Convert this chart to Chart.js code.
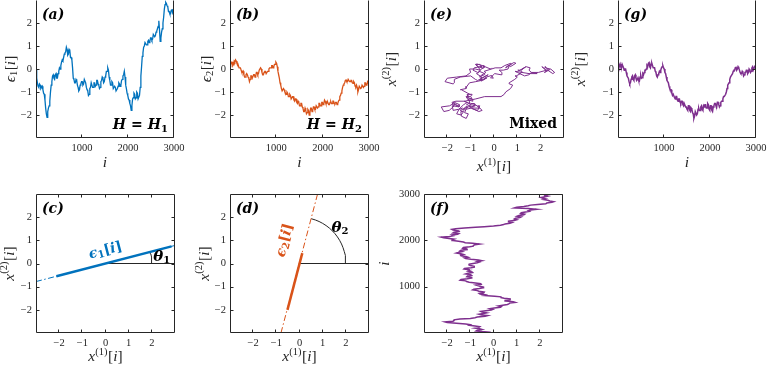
<!DOCTYPE html>
<html><head><meta charset="utf-8">
<script src="https://cdn.jsdelivr.net/npm/chart.js@4.4.0/dist/chart.umd.min.js"></script>
<style>
html,body{margin:0;padding:0;background:#fff;width:768px;height:365px;overflow:hidden;position:relative}
canvas{position:absolute}
</style></head><body>
<script>
// ---------------- data ----------------
const sampleIndex = [0,15,30,45,60,75,90,105,120,135,150,165,180,195,210,225,240,255,270,285,
300,315,330,345,360,375,390,405,420,435,450,465,480,495,510,525,540,555,570,585,
600,615,630,645,660,675,690,705,720,735,750,765,780,795,810,825,840,855,870,885,
900,915,930,945,960,975,990,1005,1020,1035,1050,1065,1080,1095,1110,1125,1140,1155,1170,1185,
1200,1215,1230,1245,1260,1275,1290,1305,1320,1335,1350,1365,1380,1395,1410,1425,1440,1455,1470,1485,
1500,1515,1530,1545,1560,1575,1590,1605,1620,1635,1650,1665,1680,1695,1710,1725,1740,1755,1770,1785,
1800,1815,1830,1845,1860,1875,1890,1905,1920,1935,1950,1965,1980,1995,2010,2025,2040,2055,2070,2085,
2100,2115,2130,2145,2160,2175,2190,2205,2220,2235,2250,2265,2280,2295,2310,2325,2340,2355,2370,2385,
2400,2415,2430,2445,2460,2475,2490,2505,2520,2535,2550,2565,2580,2595,2610,2625,2640,2655,2670,2685,
2700,2715,2730,2745,2760,2775,2790,2805,2820,2835,2850,2865,2880,2895,2910,2925,2940,2955,2970,2985,
3000];
const eps1 = [0.0,-0.4,-0.6,-0.75,-0.8,-0.65,-0.7,-0.85,-0.8,-0.75,-0.9,-1.05,-1.1,-1.35,-1.7,-1.95,-2.1,-1.85,-1.7,-1.6,
-1.4,-1.0,-0.7,-0.55,-0.3,-0.25,-0.4,-0.45,-0.25,-0.2,-0.4,-0.4,-0.2,-0.1,0.05,0.0,0.15,0.3,0.4,0.35,
0.5,0.65,0.7,0.75,0.95,0.85,0.6,0.65,0.85,0.8,0.5,0.5,0.4,0.05,-0.4,-0.45,-0.6,-0.6,-0.45,-0.5,
-0.7,-0.8,-0.95,-0.9,-0.7,-0.65,-0.55,-0.55,-0.7,-0.65,-0.45,-0.45,-0.6,-0.8,-0.9,-0.95,-1.15,-1.1,-0.85,-0.8,
-0.6,-0.6,-0.8,-0.8,-0.6,-0.6,-0.75,-0.7,-0.5,-0.5,-0.65,-0.7,-0.85,-0.8,-0.55,-0.5,-0.35,-0.4,-0.6,-0.55,
-0.35,-0.3,-0.1,-0.1,0.05,-0.05,-0.35,-0.5,-0.7,-0.7,-0.55,-0.6,-0.85,-0.85,-0.75,-0.8,-0.95,-0.95,-0.85,-0.75,
-0.6,-0.65,-0.75,-0.7,-0.5,-0.45,-0.3,-0.25,-0.1,-0.35,-0.7,-0.85,-1.05,-1.15,-1.3,-1.35,-1.5,-1.6,-1.8,-1.6,
-1.3,-1.25,-1.05,-1.1,-1.3,-1.25,-1.0,-1.05,-1.3,-1.3,-1.15,-0.8,-0.3,0.1,0.55,0.7,0.95,1.0,1.15,1.15,
1.05,1.05,1.2,1.25,1.15,1.2,1.35,1.35,1.25,1.3,1.5,1.5,1.4,1.45,1.6,1.65,1.75,1.85,2.1,1.7,
1.2,1.35,1.6,1.75,2.0,2.25,2.6,2.8,2.9,2.85,2.75,2.7,2.5,2.5,2.4,2.4,2.55,2.6,2.45,2.55,
2.75];
const eps2 = [0.1,0.15,0.3,0.3,0.15,0.2,0.35,0.3,0.4,0.35,0.25,0.25,0.15,0.05,0.05,0.05,-0.05,-0.15,-0.15,-0.1,
-0.25,-0.35,-0.35,-0.25,-0.2,-0.25,-0.35,-0.4,-0.55,-0.45,-0.3,-0.3,-0.4,-0.4,-0.25,-0.25,-0.35,-0.3,-0.15,-0.15,
-0.25,-0.2,-0.05,-0.05,0.05,0.0,-0.15,-0.25,-0.25,-0.15,-0.1,-0.1,-0.2,-0.2,-0.1,-0.1,0.0,0.05,0.05,0.05,
0.15,0.15,0.05,0.1,0.2,0.2,0.3,0.25,0.1,-0.1,-0.25,-0.4,-0.6,-0.7,-0.85,-0.95,-0.95,-0.85,-0.9,-1.0,
-1.05,-1.1,-1.0,-1.05,-1.2,-1.2,-1.1,-1.15,-1.3,-1.3,-1.2,-1.2,-1.35,-1.4,-1.3,-1.3,-1.45,-1.5,-1.4,-1.45,
-1.6,-1.6,-1.5,-1.5,-1.65,-1.7,-1.85,-1.85,-1.7,-1.8,-1.95,-1.9,-1.75,-1.8,-2.0,-1.9,-1.7,-1.7,-1.85,-1.8,
-1.65,-1.65,-1.75,-1.75,-1.6,-1.6,-1.7,-1.65,-1.5,-1.5,-1.6,-1.6,-1.45,-1.45,-1.55,-1.5,-1.35,-1.4,-1.5,-1.5,
-1.4,-1.4,-1.55,-1.55,-1.45,-1.42,-1.5,-1.5,-1.4,-1.4,-1.5,-1.52,-1.45,-1.45,-1.55,-1.5,-1.4,-1.35,-1.2,-1.15,
-1.05,-0.95,-0.8,-0.7,-0.65,-0.6,-0.5,-0.48,-0.55,-0.55,-0.45,-0.45,-0.55,-0.55,-0.5,-0.5,-0.6,-0.62,-0.55,-0.6,
-0.75,-0.78,-0.7,-0.8,-1.0,-0.9,-0.75,-0.75,-0.85,-0.82,-0.7,-0.7,-0.8,-0.75,-0.6,-0.6,-0.7,-0.68,-0.55,-0.6,
-0.75];
const x1 = [-0.1,-0.15,-0.5,-0.75,-0.7,-0.5,-0.6,-0.8,-0.65,-0.6,-0.8,-1.05,-1.0,-1.2,-1.6,-2.0,-2.1,-1.75,-1.7,-1.7,
-1.45,-1.0,-0.8,-0.7,-0.36,-0.25,-0.51,-0.62,-0.43,-0.3,-0.49,-0.55,-0.33,-0.1,-0.03,-0.15,0.03,0.3,0.34,0.22,
0.4,0.6,0.66,0.7,0.94,0.85,0.53,0.5,0.74,0.72,0.46,0.3,0.32,0.05,-0.42,-0.35,-0.58,-0.62,-0.42,-0.4,
-0.63,-0.7,-0.9,-0.85,-0.61,-0.45,-0.43,-0.55,-0.65,-0.75,-0.53,-0.55,-0.78,-1.05,-1.16,-1.2,-1.44,-1.4,-1.13,-0.95,
-0.94,-1.15,-1.12,-0.95,-0.99,-1.2,-1.1,-0.9,-0.93,-1.1,-1.04,-1.05,-1.28,-1.25,-0.97,-0.8,-0.83,-1.0,-1.06,-1.05,
-0.88,-0.7,-0.61,-0.7,-0.51,-0.65,-0.97,-1.2,-1.26,-1.1,-1.19,-1.4,-1.42,-1.3,-1.41,-1.6,-1.5,-1.35,-1.45,-1.4,
-1.14,-1.15,-1.33,-1.3,-1.03,-0.85,-0.87,-0.8,-0.61,-0.9,-1.22,-1.3,-1.51,-1.75,-1.79,-1.7,-1.92,-2.15,-2.26,-1.9,
-1.74,-1.8,-1.55,-1.5,-1.75,-1.7,-1.48,-1.5,-1.74,-1.8,-1.63,-1.25,-0.78,-0.4,0.0,0.3,0.44,0.5,0.71,0.8,
0.66,0.65,0.89,1.0,0.9,0.95,1.14,1.2,1.02,1.1,1.31,1.35,1.17,1.2,1.38,1.55,1.5,1.6,1.85,1.5,
0.9,1.0,1.31,1.5,1.6,1.9,2.26,2.3,2.52,2.6,2.43,2.35,2.16,2.25,2.13,2.05,2.23,2.35,2.19,2.2,
2.41];
const x2 = [0.05,0.0,0.15,0.22,0.1,0.05,0.2,0.2,0.05,-0.05,0.0,0.0,-0.15,-0.3,-0.35,-0.4,-0.55,-0.65,-0.6,-0.45,
-0.35,-0.3,-0.45,-0.5,-0.3,-0.25,-0.4,-0.5,-0.45,-0.38,-0.5,-0.52,-0.35,-0.28,-0.4,-0.38,-0.2,-0.25,-0.15,-0.05,
-0.05,0.0,0.15,0.1,0.25,0.28,0.1,0.05,0.2,0.25,0.15,0.05,0.05,0.05,-0.1,-0.15,-0.3,-0.35,-0.25,-0.2,
-0.1,-0.15,-0.05,0.05,0.1,0.15,0.05,0.0,-0.15,-0.2,-0.35,-0.5,-0.55,-0.6,-0.75,-0.85,-0.9,-0.9,-1.05,-1.15,
-1.1,-1.1,-1.25,-1.3,-1.2,-1.2,-1.35,-1.4,-1.3,-1.3,-1.45,-1.5,-1.4,-1.4,-1.55,-1.6,-1.5,-1.5,-1.65,-1.65,
-1.75,-1.8,-1.6,-1.6,-1.8,-1.85,-1.7,-1.75,-1.9,-1.95,-2.15,-2.05,-1.85,-1.85,-2.0,-1.95,-1.75,-1.7,-1.8,-1.8,
-1.65,-1.6,-1.75,-1.8,-1.6,-1.65,-1.55,-1.55,-1.7,-1.7,-1.5,-1.55,-1.75,-1.8,-1.6,-1.6,-1.8,-1.85,-1.65,-1.6,
-1.5,-1.5,-1.6,-1.65,-1.45,-1.45,-1.55,-1.65,-1.6,-1.45,-1.4,-1.4,-1.3,-1.2,-1.2,-1.2,-1.1,-1.0,-0.85,-0.7,
-0.65,-0.6,-0.45,-0.35,-0.3,-0.3,-0.2,-0.1,-0.05,-0.05,0.05,0.1,-0.05,0.0,0.1,0.05,-0.05,-0.15,-0.2,-0.2,
-0.1,-0.15,-0.3,-0.25,-0.15,-0.15,-0.05,-0.05,-0.2,-0.15,0.0,-0.05,-0.15,-0.1,0.05,0.1,-0.05,-0.05,0.1,0.05,
0.0];

const timeTicks = [1000, 2000, 3000];
const valueTicks = [-2, -1, 0, 1, 2];

// direction lines of panels (c) and (d)
const dir1Full  = [{x:-3,y:-0.78},{x:3,y:0.78}];
const dir1Range = [{x:-2.12,y:-0.55},{x:2.85,y:0.74}];
const dir2Full  = [{x:-0.8,y:-3},{x:0.78,y:3}];
const dir2Range = [{x:-0.52,y:-2.0},{x:0.12,y:0.45}];
const refAxis   = [{x:0,y:0},{x:3,y:0}];
const arc1 = [{x:2,y:0},{x:1.995,y:0.139},{x:1.981,y:0.278},{x:1.956,y:0.416},{x:1.935,y:0.504}];
const arc2 = [{x:2,y:0},{x:1.992,y:0.174},{x:1.970,y:0.347},{x:1.932,y:0.518},{x:1.879,y:0.684},{x:1.813,y:0.845},
  {x:1.732,y:1.0},{x:1.638,y:1.147},{x:1.532,y:1.286},{x:1.414,y:1.414},{x:1.286,y:1.532},{x:1.147,y:1.638},
  {x:1.0,y:1.732},{x:0.845,y:1.813},{x:0.684,y:1.879},{x:0.504,y:1.935}];

// ---------------- styling ----------------
const COL = {blue:'#0072BD', orange:'#D95319', purple:'#7E2F8E', axis:'#262626'};
const SERIF = '"Liberation Serif", "DejaVu Serif", serif';
const BSERIF = '"DejaVu Serif", serif';
function F(style, size, fam){ return (style ? style + ' ' : '') + size + 'px ' + (fam || SERIF); }

function drawRich(ctx, segs, x, y, o) {
  ctx.save();
  ctx.translate(x, y);
  if (o.rot) ctx.rotate(o.rot);
  let w = 0;
  segs.forEach(s => { ctx.font = s.f; s.w = ctx.measureText(s.t).width; w += s.w + (s.dx || 0); });
  let cx = o.align === 'center' ? -w / 2 : (o.align === 'right' ? -w : 0);
  ctx.textBaseline = o.baseline || 'alphabetic';
  ctx.textAlign = 'left';
  segs.forEach(s => {
    cx += (s.dx || 0);
    ctx.font = s.f; ctx.fillStyle = s.c || o.color || '#000';
    ctx.fillText(s.t, cx, s.dy || 0);
    cx += s.w;
  });
  ctx.restore();
}
const TS = 15.5, SS = 10.5;
const xLab = n => [{t:'x',f:F('italic',TS)},{t:'('+n+')',f:F('',SS),dy:-6},{t:'[',f:F('',TS),dx:0.5},{t:'i',f:F('italic',TS)},{t:']',f:F('',TS)}];
const epsLab = n => [{t:'ϵ',f:F('italic',TS)},{t:n,f:F('',SS),dy:3},{t:'[',f:F('',TS),dx:0.5},{t:'i',f:F('italic',TS)},{t:']',f:F('',TS)}];
const iLab = [{t:'i',f:F('italic',TS)}];
const BI = F('italic bold', 14, BSERIF), BU = F('bold', 14, BSERIF), BS = F('bold', 10, BSERIF);
const tag = s => [{t:'('+s+')', f:BI}];
const hLab = n => [{t:'H',f:BI},{t:'=',f:BU,dx:5},{t:'H',f:BI,dx:5},{t:n,f:BS,dy:3}];
const epsBold = n => [{t:'ϵ',f:BI},{t:n,f:BS,dy:3},{t:'[',f:BU},{t:'i',f:BI},{t:']',f:BU}];
const thetaLab = n => [{t:'θ',f:F('italic bold',15,BSERIF)},{t:n,f:BS,dy:3}];

function framePlugin(p) {
  return { id: 'frame', afterDraw(chart) {
    const {ctx, chartArea: a, scales: {x, y}} = chart;
    ctx.save();
    ctx.strokeStyle = COL.axis; ctx.lineWidth = 1;
    const L = Math.round(a.left) + 0.5, R = Math.round(a.right) - 0.5, T = Math.round(a.top) + 0.5, B = Math.round(a.bottom) - 0.5;
    ctx.beginPath();
    ctx.moveTo(L, T); ctx.lineTo(L, B); ctx.lineTo(R, B); ctx.lineTo(R, T);
    if (!p.noTop) ctx.lineTo(L, T);
    const tl = 3;
    p.xt.forEach(v => { const px = Math.round(x.getPixelForValue(v)) - 0.5;
      ctx.moveTo(px, B); ctx.lineTo(px, B - tl);
      if (!p.noTop) { ctx.moveTo(px, T); ctx.lineTo(px, T + tl); } });
    p.yt.forEach(v => { const py = Math.round(y.getPixelForValue(v)) + 0.5;
      ctx.moveTo(L, py); ctx.lineTo(L + tl, py); ctx.moveTo(R, py); ctx.lineTo(R - tl, py); });
    ctx.stroke();
    ctx.restore();
    const cxm = (a.left + a.right) / 2, cym = (a.top + a.bottom) / 2;
    drawRich(ctx, p.xTitle, cxm + (p.xtDX || 0), a.bottom + p.xtY, {align:'center', color: COL.axis});
    drawRich(ctx, p.yTitle, a.left - p.ytX, cym + (p.ytDY || 0), {align:'center', rot:-Math.PI/2, baseline:'middle', color: COL.axis});
    (p.texts || []).forEach(t => {
      let px, py;
      if (t.data) { px = x.getPixelForValue(t.data[0]); py = y.getPixelForValue(t.data[1]); }
      else { px = (t.right ? a.right : a.left) + t.dx; py = (t.bottom ? a.bottom : a.top) + t.dy; }
      drawRich(ctx, t.segs, px, py, {align: t.align || 'left', rot: t.rot || 0, baseline: t.baseline, color: t.color || '#000'});
    });
  }};
}

const fmt = v => (v < 0 ? '\u2212' + Math.abs(v) : String(v));

function makePanel(p) {
  const padL = 52, padR = 16, padT = (p.padT !== undefined ? p.padT : 10), padB = 44;
  const W = padL + p.w + padR, H = padT + p.h + padB;
  const cv = document.createElement('canvas');
  cv.width = W; cv.height = H;
  cv.style.left = (p.l - padL) + 'px'; cv.style.top = (p.t - padT) + 'px';
  cv.style.width = W + 'px'; cv.style.height = H + 'px';
  document.body.appendChild(cv);
  const tickFont = {family: SERIF, size: 10.5};
  new Chart(cv, {
    type: 'scatter',
    data: {datasets: p.datasets.map(d => Object.assign({showLine: true, pointRadius: 0, fill: false, borderWidth: 1}, d))},
    options: {
      responsive: false, animation: false, devicePixelRatio: 1,
      layout: {padding: {left: 0, right: padR, top: padT, bottom: 0}},
      plugins: {legend: {display: false}, tooltip: {enabled: false}},
      elements: {line: {tension: 0}},
      scales: {
        x: {type: 'linear', min: p.xr[0], max: p.xr[1], grid: {display: false, drawTicks: false}, border: {display: false},
            ticks: {font: tickFont, color: COL.axis, padding: 4, maxRotation: 0, autoSkip: false, callback: fmt},
            afterBuildTicks: s => { s.ticks = p.xt.map(v => ({value: v})); },
            afterFit: s => { s.height = padB; s.paddingLeft = 0; s.paddingRight = 0; s.paddingTop = 0; s.paddingBottom = 0; }},
        y: {type: 'linear', min: p.yr[0], max: p.yr[1], grid: {display: false, drawTicks: false}, border: {display: false},
            ticks: {font: tickFont, color: COL.axis, padding: 4, autoSkip: false, callback: fmt},
            afterBuildTicks: s => { s.ticks = p.yt.map(v => ({value: v})); },
            afterFit: s => { s.width = padL; s.paddingLeft = 0; s.paddingRight = 0; s.paddingTop = 0; s.paddingBottom = 0; }}
      }
    },
    plugins: [framePlugin(p)]
  });
}

const series = (xs, ys) => xs.map((v, k) => ({x: v, y: ys[k]}));

// (a)
makePanel({l:36, t:0, w:138, h:138, padT:0, noTop:true, xr:[0,3000], yr:[-3,3], xt:timeTicks, yt:valueTicks,
  xTitle: iLab, xtY: 29, yTitle: epsLab('1'), ytX: 25,
  datasets: [{data: series(sampleIndex, eps1), borderColor: COL.blue, borderWidth: 1.3}],
  texts: [{segs: tag('a'), dx: 6, dy: 18.5}, {segs: hLab('1'), right: true, bottom: true, dx: -6, dy: -9, align: 'right'}]});
// (b)
makePanel({l:230, t:0, w:139, h:138, padT:0, noTop:true, xr:[0,3000], yr:[-3,3], xt:timeTicks, yt:valueTicks,
  xTitle: iLab, xtY: 29, yTitle: epsLab('2'), ytX: 23,
  datasets: [{data: series(sampleIndex, eps2), borderColor: COL.orange, borderWidth: 1.3}],
  texts: [{segs: tag('b'), dx: 6, dy: 18.5}, {segs: hLab('2'), right: true, bottom: true, dx: -7, dy: -9, align: 'right'}]});
// (e)
makePanel({l:424, t:0, w:140, h:138, padT:0, noTop:true, xr:[-3,3], yr:[-3,3], xt:valueTicks, yt:valueTicks,
  xTitle: xLab('1'), xtY: 33, yTitle: xLab('2'), ytX: 32,
  datasets: [{data: series(x1, x2), borderColor: COL.purple, borderWidth: 1.0}],
  texts: [{segs: tag('e'), dx: 6, dy: 18.5}, {segs: [{t:'Mixed', f: BU}], right: true, bottom: true, dx: -7, dy: -10, align: 'right'}]});
// (g)
makePanel({l:618, t:0, w:138, h:138, padT:0, noTop:true, xr:[0,3000], yr:[-3,3], xt:timeTicks, yt:valueTicks,
  xTitle: iLab, xtY: 29, yTitle: xLab('2'), ytX: 37,
  datasets: [{data: series(sampleIndex, x2), borderColor: COL.purple, borderWidth: 1.5}],
  texts: [{segs: tag('g'), dx: 6, dy: 18.5}]});
// (c)
makePanel({l:36, t:194, w:139, h:139, xr:[-3,3], yr:[-3,3], xt:valueTicks, yt:valueTicks,
  xTitle: xLab('1'), xtY: 28, yTitle: xLab('2'), ytX: 26,
  datasets: [
    {data: dir1Full, borderColor: COL.blue, borderWidth: 1, borderDash: [6, 2.5, 1.5, 2.5]},
    {data: dir1Range, borderColor: COL.blue, borderWidth: 2.5},
    {data: refAxis, borderColor: COL.axis, borderWidth: 1},
    {data: arc1, borderColor: COL.axis, borderWidth: 1}],
  texts: [{segs: tag('c'), dx: 6, dy: 18.5},
    {segs: epsBold('1'), data: [0.0, 0.55], align: 'center', baseline: 'middle', rot: -14.6 * Math.PI / 180, color: COL.blue},
    {segs: thetaLab('1'), data: [2.43, 0.26], align: 'center', baseline: 'middle'}]});
// (d)
makePanel({l:230, t:194, w:139, h:139, xr:[-3,3], yr:[-3,3], xt:valueTicks, yt:valueTicks,
  xTitle: xLab('1'), xtY: 28, yTitle: xLab('2'), ytX: 25,
  datasets: [
    {data: dir2Full, borderColor: COL.orange, borderWidth: 1, borderDash: [6, 2.5, 1.5, 2.5]},
    {data: dir2Range, borderColor: COL.orange, borderWidth: 2.5},
    {data: refAxis, borderColor: COL.axis, borderWidth: 1},
    {data: arc2, borderColor: COL.axis, borderWidth: 1}],
  texts: [{segs: tag('d'), dx: 6, dy: 18.5},
    {segs: epsBold('2'), data: [-0.63, 1.0], align: 'center', baseline: 'middle', rot: -75.4 * Math.PI / 180, color: COL.orange},
    {segs: thetaLab('2'), data: [1.75, 1.53], align: 'center', baseline: 'middle'}]});
// (f)
makePanel({l:424, t:194, w:139, h:139, xr:[-3,3], yr:[0,3000], xt:valueTicks, yt:timeTicks,
  xTitle: xLab('1'), xtY: 28, yTitle: iLab, ytX: 39,
  datasets: [{data: series(x1, sampleIndex), borderColor: COL.purple, borderWidth: 1.5}],
  texts: [{segs: tag('f'), dx: 6, dy: 18.5}]});
</script>
</body></html>
